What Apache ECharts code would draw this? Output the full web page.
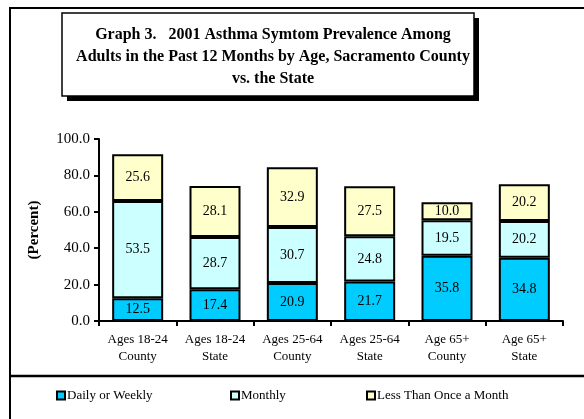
<!DOCTYPE html>
<html>
<head>
<meta charset="utf-8">
<script src="https://cdn.jsdelivr.net/npm/echarts@6/dist/echarts.min.js"></script>
<style>
  html, body { margin: 0; padding: 0; background: #fff; }
  #chart { width: 584px; height: 419px; }
</style>
</head>
<body>
<div id="chart"></div>
<script>
// Asthma symptom prevalence by age group (percent), county vs. state
const categories = [
  'Ages 18-24\nCounty', 'Ages 18-24\nState',
  'Ages 25-64\nCounty', 'Ages 25-64\nState',
  'Age 65+\nCounty', 'Age 65+\nState'
];
const dailyOrWeekly = [12.5, 17.4, 20.9, 21.7, 35.8, 34.8];
const monthly = [53.5, 28.7, 30.7, 24.8, 19.5, 20.2];
const lessThanMonthly = [25.6, 28.1, 32.9, 27.5, 10.0, 20.2];
const seriesNames = ['Daily or Weekly', 'Monthly', 'Less Than Once a Month'];
const seriesColors = ['#00ccff', '#ccffff', '#ffffcc'];
const titleText = 'Graph 3.   2001 Asthma Symtom Prevalence Among\nAdults in the Past 12 Months by Age, Sacramento County\nvs. the State';

const serif = '"Liberation Serif", "Times New Roman", serif';
const chart = echarts.init(document.getElementById('chart'), null, { renderer: 'canvas' });

function barSeries(name, data, color) {
  return {
    name: name,
    type: 'bar',
    stack: 'total',
    data: data,
    barWidth: 51,
    itemStyle: { color: color, borderColor: '#000', borderWidth: 2 },
    label: {
      show: true,
      position: 'inside',
      color: '#000',
      fontFamily: serif,
      fontSize: 14,
      formatter: p => p.value.toFixed(1)
    },
    emphasis: { disabled: true }
  };
}

function legendAt(left, name) {
  return {
    left: left,
    top: 384,
    data: [name],
    icon: 'rect',
    itemWidth: 8,
    itemHeight: 8,
    itemGap: 0,
    textStyle: { fontFamily: serif, fontSize: 13, color: '#000', padding: [0, 0, 0, -3] },
    selectedMode: false
  };
}

chart.setOption({
  animation: false,
  backgroundColor: '#fff',
  graphic: [
    // outer frame and legend divider
    { type: 'rect', shape: { x: 10, y: 8, width: 600, height: 440 },
      style: { fill: 'none', stroke: '#000', lineWidth: 2 }, z: 0 },
    { type: 'line', shape: { x1: 10, y1: 376, x2: 584, y2: 376 },
      style: { stroke: '#000', lineWidth: 2.5 }, z: 0 },
    // title box with drop shadow
    { type: 'rect', shape: { x: 67, y: 18, width: 412, height: 83 },
      style: { fill: '#000' }, z: 0 },
    { type: 'rect', shape: { x: 62, y: 13, width: 412, height: 83 },
      style: { fill: '#fff', stroke: '#000', lineWidth: 1.5 }, z: 1 }
  ],
  title: {
    text: titleText,
    left: 268,
    textAlign: 'center',
    top: 19,
    textStyle: {
      fontFamily: serif,
      fontWeight: 'bold',
      fontSize: 16,
      lineHeight: 22,
      color: '#000'
    },
    z: 5
  },
  legend: [
    legendAt(51, seriesNames[0]),
    legendAt(225, seriesNames[1]),
    legendAt(361, seriesNames[2])
  ],
  grid: { left: 99, right: 21, top: 139, bottom: 98 },
  xAxis: {
    type: 'category',
    data: categories,
    axisLine: { lineStyle: { color: '#000', width: 2 } },
    axisTick: { show: true, length: 5, lineStyle: { color: '#000', width: 2 } },
    axisLabel: {
      fontFamily: serif,
      fontSize: 13,
      color: '#000',
      lineHeight: 17,
      margin: 10,
      interval: 0
    }
  },
  yAxis: {
    type: 'value',
    min: 0,
    max: 100,
    interval: 20,
    name: '(Percent)',
    nameLocation: 'middle',
    nameGap: 57,
    nameTextStyle: { fontFamily: serif, fontSize: 15, fontWeight: 'bold', color: '#000' },
    axisLine: { show: true, lineStyle: { color: '#000', width: 2 } },
    axisTick: { show: true, length: 5, lineStyle: { color: '#000', width: 2 } },
    splitLine: { show: false },
    axisLabel: {
      fontFamily: serif,
      fontSize: 15,
      color: '#000',
      margin: 9,
      formatter: v => v.toFixed(1)
    }
  },
  series: [
    barSeries(seriesNames[0], dailyOrWeekly, seriesColors[0]),
    barSeries(seriesNames[1], monthly, seriesColors[1]),
    barSeries(seriesNames[2], lessThanMonthly, seriesColors[2])
  ]
});
</script>
</body>
</html>
